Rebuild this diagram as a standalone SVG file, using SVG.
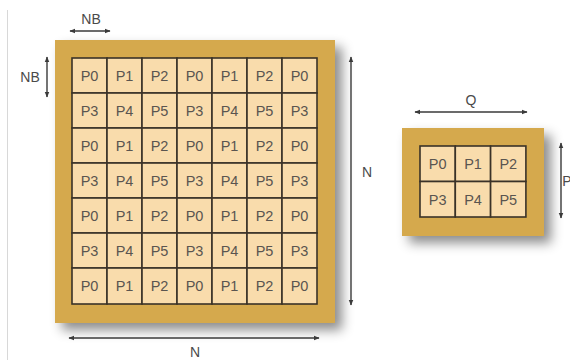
<svg xmlns="http://www.w3.org/2000/svg" width="570" height="360" viewBox="0 0 570 360">
<style>
.board{fill:#D5A94E;}
.cell{fill:#F9DCAC;stroke:#3a3228;stroke-width:1.6;}
.lbl{font-family:"Liberation Sans",Arial,sans-serif;font-size:14.5px;fill:#5a5550;text-anchor:middle;}
.dim{font-family:"Liberation Sans",Arial,sans-serif;font-size:14px;fill:#4a4a4a;text-anchor:middle;}
.arr{stroke:#3a3a3a;stroke-width:1.4;fill:none;marker-start:url(#ah);marker-end:url(#ah);}
</style>
<defs>
<marker id="ah" viewBox="0 0 10 10" refX="9" refY="5" markerWidth="6" markerHeight="6" orient="auto-start-reverse" markerUnits="userSpaceOnUse">
<path d="M0,1 L10,5 L0,9 z" fill="#3a3a3a"/>
</marker>
<filter id="sh" x="-10%" y="-10%" width="130%" height="130%">
<feDropShadow dx="7" dy="7" stdDeviation="6" flood-color="#000" flood-opacity="0.45"/>
</filter>
</defs>
<rect width="570" height="360" fill="#fff"/>
<line x1="7.5" y1="10" x2="7.5" y2="360" stroke="#d8d8d8" stroke-width="1"/>

<g id="matrixN">
<rect class="board" x="55" y="40" width="280" height="283" filter="url(#sh)"/>
<g id="gridN">
<rect class="cell" x="72" y="58" width="35" height="35"/><text class="lbl" x="89.5" y="80.5">P0</text>
<rect class="cell" x="107" y="58" width="35" height="35"/><text class="lbl" x="124.5" y="80.5">P1</text>
<rect class="cell" x="142" y="58" width="35" height="35"/><text class="lbl" x="159.5" y="80.5">P2</text>
<rect class="cell" x="177" y="58" width="35" height="35"/><text class="lbl" x="194.5" y="80.5">P0</text>
<rect class="cell" x="212" y="58" width="35" height="35"/><text class="lbl" x="229.5" y="80.5">P1</text>
<rect class="cell" x="247" y="58" width="35" height="35"/><text class="lbl" x="264.5" y="80.5">P2</text>
<rect class="cell" x="282" y="58" width="35" height="35"/><text class="lbl" x="299.5" y="80.5">P0</text>

<rect class="cell" x="72" y="93" width="35" height="35"/><text class="lbl" x="89.5" y="115.5">P3</text>
<rect class="cell" x="107" y="93" width="35" height="35"/><text class="lbl" x="124.5" y="115.5">P4</text>
<rect class="cell" x="142" y="93" width="35" height="35"/><text class="lbl" x="159.5" y="115.5">P5</text>
<rect class="cell" x="177" y="93" width="35" height="35"/><text class="lbl" x="194.5" y="115.5">P3</text>
<rect class="cell" x="212" y="93" width="35" height="35"/><text class="lbl" x="229.5" y="115.5">P4</text>
<rect class="cell" x="247" y="93" width="35" height="35"/><text class="lbl" x="264.5" y="115.5">P5</text>
<rect class="cell" x="282" y="93" width="35" height="35"/><text class="lbl" x="299.5" y="115.5">P3</text>

<rect class="cell" x="72" y="128" width="35" height="35"/><text class="lbl" x="89.5" y="150.5">P0</text>
<rect class="cell" x="107" y="128" width="35" height="35"/><text class="lbl" x="124.5" y="150.5">P1</text>
<rect class="cell" x="142" y="128" width="35" height="35"/><text class="lbl" x="159.5" y="150.5">P2</text>
<rect class="cell" x="177" y="128" width="35" height="35"/><text class="lbl" x="194.5" y="150.5">P0</text>
<rect class="cell" x="212" y="128" width="35" height="35"/><text class="lbl" x="229.5" y="150.5">P1</text>
<rect class="cell" x="247" y="128" width="35" height="35"/><text class="lbl" x="264.5" y="150.5">P2</text>
<rect class="cell" x="282" y="128" width="35" height="35"/><text class="lbl" x="299.5" y="150.5">P0</text>

<rect class="cell" x="72" y="163" width="35" height="35"/><text class="lbl" x="89.5" y="185.5">P3</text>
<rect class="cell" x="107" y="163" width="35" height="35"/><text class="lbl" x="124.5" y="185.5">P4</text>
<rect class="cell" x="142" y="163" width="35" height="35"/><text class="lbl" x="159.5" y="185.5">P5</text>
<rect class="cell" x="177" y="163" width="35" height="35"/><text class="lbl" x="194.5" y="185.5">P3</text>
<rect class="cell" x="212" y="163" width="35" height="35"/><text class="lbl" x="229.5" y="185.5">P4</text>
<rect class="cell" x="247" y="163" width="35" height="35"/><text class="lbl" x="264.5" y="185.5">P5</text>
<rect class="cell" x="282" y="163" width="35" height="35"/><text class="lbl" x="299.5" y="185.5">P3</text>

<rect class="cell" x="72" y="198" width="35" height="35"/><text class="lbl" x="89.5" y="220.5">P0</text>
<rect class="cell" x="107" y="198" width="35" height="35"/><text class="lbl" x="124.5" y="220.5">P1</text>
<rect class="cell" x="142" y="198" width="35" height="35"/><text class="lbl" x="159.5" y="220.5">P2</text>
<rect class="cell" x="177" y="198" width="35" height="35"/><text class="lbl" x="194.5" y="220.5">P0</text>
<rect class="cell" x="212" y="198" width="35" height="35"/><text class="lbl" x="229.5" y="220.5">P1</text>
<rect class="cell" x="247" y="198" width="35" height="35"/><text class="lbl" x="264.5" y="220.5">P2</text>
<rect class="cell" x="282" y="198" width="35" height="35"/><text class="lbl" x="299.5" y="220.5">P0</text>

<rect class="cell" x="72" y="233" width="35" height="35"/><text class="lbl" x="89.5" y="255.5">P3</text>
<rect class="cell" x="107" y="233" width="35" height="35"/><text class="lbl" x="124.5" y="255.5">P4</text>
<rect class="cell" x="142" y="233" width="35" height="35"/><text class="lbl" x="159.5" y="255.5">P5</text>
<rect class="cell" x="177" y="233" width="35" height="35"/><text class="lbl" x="194.5" y="255.5">P3</text>
<rect class="cell" x="212" y="233" width="35" height="35"/><text class="lbl" x="229.5" y="255.5">P4</text>
<rect class="cell" x="247" y="233" width="35" height="35"/><text class="lbl" x="264.5" y="255.5">P5</text>
<rect class="cell" x="282" y="233" width="35" height="35"/><text class="lbl" x="299.5" y="255.5">P3</text>

<rect class="cell" x="72" y="268" width="35" height="36"/><text class="lbl" x="89.5" y="291">P0</text>
<rect class="cell" x="107" y="268" width="35" height="36"/><text class="lbl" x="124.5" y="291">P1</text>
<rect class="cell" x="142" y="268" width="35" height="36"/><text class="lbl" x="159.5" y="291">P2</text>
<rect class="cell" x="177" y="268" width="35" height="36"/><text class="lbl" x="194.5" y="291">P0</text>
<rect class="cell" x="212" y="268" width="35" height="36"/><text class="lbl" x="229.5" y="291">P1</text>
<rect class="cell" x="247" y="268" width="35" height="36"/><text class="lbl" x="264.5" y="291">P2</text>
<rect class="cell" x="282" y="268" width="35" height="36"/><text class="lbl" x="299.5" y="291">P0</text>
</g>
</g>

<g id="gridP">
<rect class="board" x="402" y="128" width="142" height="108" filter="url(#sh)"/>
<rect class="cell" x="420" y="146" width="35.3" height="35.5"/><text class="lbl" x="437.6" y="169">P0</text>
<rect class="cell" x="455.3" y="146" width="35.3" height="35.5"/><text class="lbl" x="473" y="169">P1</text>
<rect class="cell" x="490.6" y="146" width="35.3" height="35.5"/><text class="lbl" x="508.3" y="169">P2</text>
<rect class="cell" x="420" y="181.5" width="35.3" height="35.5"/><text class="lbl" x="437.6" y="204.5">P3</text>
<rect class="cell" x="455.3" y="181.5" width="35.3" height="35.5"/><text class="lbl" x="473" y="204.5">P4</text>
<rect class="cell" x="490.6" y="181.5" width="35.3" height="35.5"/><text class="lbl" x="508.3" y="204.5">P5</text>
</g>

<g id="connectors">
<line class="arr" x1="70" y1="31" x2="110" y2="31"/>
<line class="arr" x1="47" y1="57" x2="47" y2="97"/>
<line class="arr" x1="351" y1="57" x2="351" y2="305"/>
<line class="arr" x1="69" y1="338" x2="319" y2="338"/>
<line class="arr" x1="415" y1="112" x2="527" y2="112"/>
<line class="arr" x1="561" y1="143" x2="561" y2="218"/>
</g>

<g id="labels">
<text class="dim" x="91" y="24">NB</text>
<text class="dim" x="30" y="82">NB</text>
<text class="dim" x="367" y="177">N</text>
<text class="dim" x="195" y="357">N</text>
<text class="dim" x="471" y="105">Q</text>
<text class="dim" x="567" y="186" text-anchor="start">P</text>
</g>
</svg>
